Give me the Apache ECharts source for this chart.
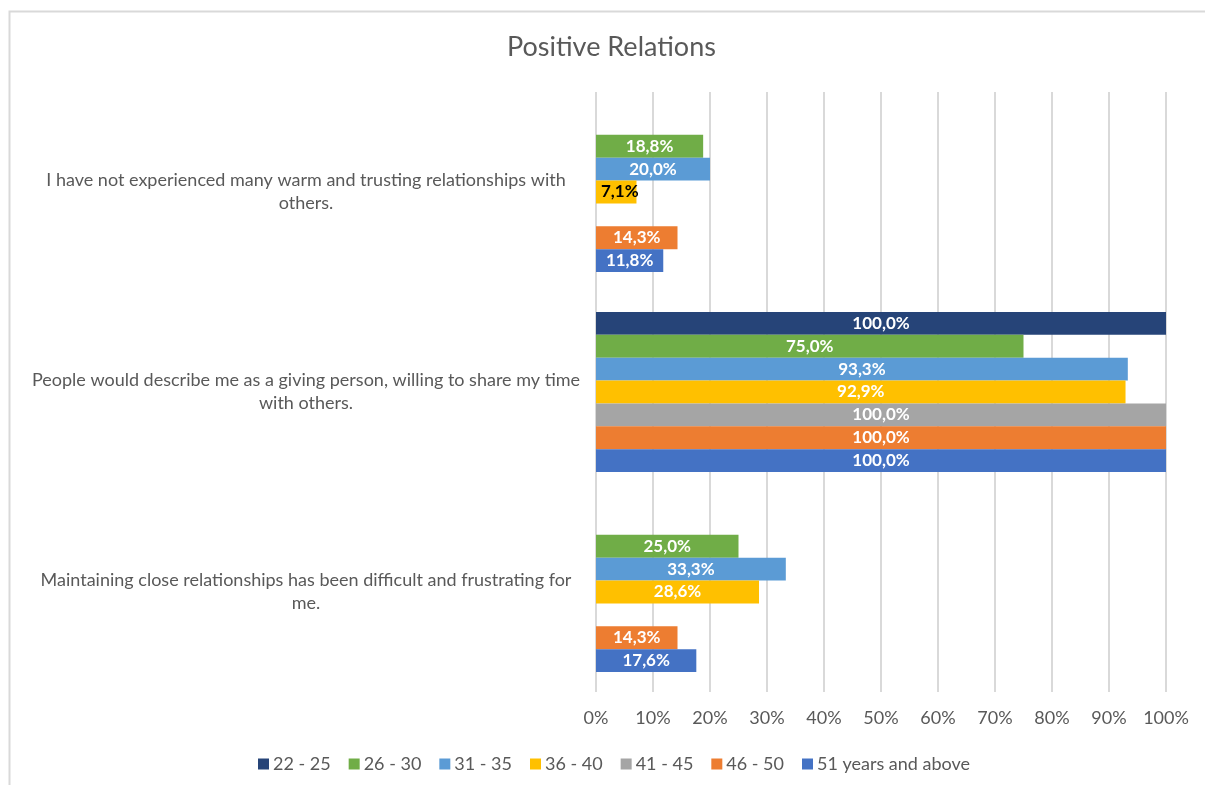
<!DOCTYPE html>
<html>
<head>
<meta charset="utf-8">
<script src="https://cdn.jsdelivr.net/npm/echarts@6/dist/echarts.min.js"></script>
<style>
html, body { margin: 0; padding: 0; background: #fff; }
#main { width: 1205px; height: 785px; }
</style>
</head>
<body>
<div id="main"></div>
<script>
// categories, top to bottom
var categories = [
	'I have not experienced many warm and trusting relationships with\nothers.',
	'People would describe me as a giving person, willing to share my time\nwith others.',
	'Maintaining close relationships has been difficult and frustrating for\nme.'
];
var ageGroups = ['22 - 25', '26 - 30', '31 - 35', '36 - 40', '41 - 45', '46 - 50', '51 years and above'];
var colors = ['#264478', '#70AD47', '#5B9BD5', '#FFC000', '#A5A5A5', '#ED7D31', '#4472C4'];

// percentages per age group, one value per category
var age22_25 = [null, 100.0, null];
var age26_30 = [18.8, 75.0, 25.0];
var age31_35 = [20.0, 93.3, 33.3];
var age36_40 = [7.1, 92.9, 28.6];
var age41_45 = [null, 100.0, null];
var age46_50 = [14.3, 100.0, 14.3];
var age51up = [11.8, 100.0, 17.6];

var xTicks = [0, 10, 20, 30, 40, 50, 60, 70, 80, 90, 100];

var allValues = [age22_25, age26_30, age31_35, age36_40, age41_45, age46_50, age51up];

function fmt(v) {
	return v.toFixed(1).replace('.', ',') + '%';
}

var series = ageGroups.map(function (name, i) {
	return {
		name: name,
		type: 'bar',
		barGap: 0,
		barCategoryGap: '20%',
		itemStyle: { color: colors[i] },
		label: {
			show: true,
			position: 'inside',
			color: '#fff',
			fontWeight: 'bold',
			fontSize: 17,
			fontFamily: 'Lato',
			formatter: function (p) { return p.value == null ? '' : fmt(p.value); }
		},
		data: allValues[i].map(function (v) {
			// short bars get a dark label, as in the original
			if (v != null && v < 10) {
				return { value: v, label: { color: '#000', position: 'insideLeft', offset: [0, 0] } };
			}
			return v;
		})
	};
});

var myChart = echarts.init(document.getElementById('main'));
var option = {
	animation: false,
	color: colors,
	title: {
		text: 'Positive Relations',
		left: 502,
		top: 29,
		textStyle: {
			color: '#595959',
			fontSize: 27,
			fontWeight: 'normal',
			fontFamily: 'Lato'
		}
	},
	graphic: [{
		type: 'rect',
		shape: { x: 9.5, y: 11.5, width: 1210, height: 800 },
		style: { fill: 'none', stroke: '#d9d9d9', lineWidth: 2 },
		silent: true,
		z: -1
	}],
	legend: {
		data: ageGroups,
		left: 253,
		top: 750,
		itemWidth: 11,
		itemHeight: 11,
		itemGap: 18,
		icon: 'rect',
		textStyle: {
			color: '#595959',
			fontSize: 18,
			fontFamily: 'Lato',
			padding: [0, 0, 0, -1]
		}
	},
	grid: {
		left: 596,
		right: 39,
		top: 92,
		bottom: 93
	},
	xAxis: {
		type: 'value',
		min: 0,
		max: 100,
		interval: 10,
		axisLine: { show: false },
		axisTick: { show: false },
		splitLine: {
			show: true,
			lineStyle: { color: '#d9d9d9', width: 2 }
		},
		axisLabel: {
			color: '#595959',
			fontSize: 18,
			fontFamily: 'Lato',
			margin: 17,
			formatter: function (v) { return xTicks.indexOf(v) >= 0 ? v + '%' : ''; }
		}
	},
	yAxis: {
		type: 'category',
		inverse: true,
		data: categories,
		axisLine: { show: false },
		axisTick: { show: false },
		axisLabel: {
			color: '#595959',
			fontSize: 18,
			fontFamily: 'Lato',
			align: 'center',
			lineHeight: 23,
			margin: 290
		}
	},
	series: series
};
myChart.setOption(option, true);
</script>
</body>
</html>
